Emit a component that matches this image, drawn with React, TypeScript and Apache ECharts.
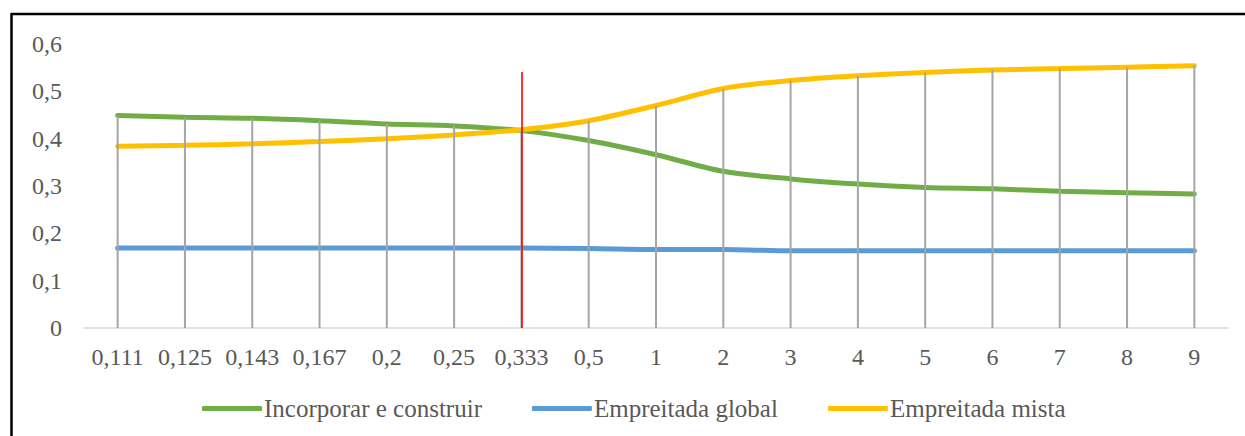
import React, { useEffect, useRef } from "react";
import * as echarts from "echarts";

const categories = ["0,111", "0,125", "0,143", "0,167", "0,2", "0,25", "0,333", "0,5", "1", "2", "3", "4", "5", "6", "7", "8", "9"];
const incorporar = [0.449, 0.445, 0.443, 0.438, 0.431, 0.427, 0.417, 0.396, 0.366, 0.331, 0.315, 0.304, 0.297, 0.294, 0.289, 0.286, 0.283];
const global = [0.169, 0.169, 0.169, 0.169, 0.169, 0.169, 0.169, 0.168, 0.166, 0.166, 0.163, 0.163, 0.163, 0.163, 0.163, 0.163, 0.163];
const mista = [0.384, 0.386, 0.389, 0.394, 0.400, 0.408, 0.419, 0.438, 0.470, 0.506, 0.523, 0.533, 0.540, 0.545, 0.548, 0.551, 0.554];
const yTicks = [0, 0.1, 0.2, 0.3, 0.4, 0.5, 0.6];
const markerCategory = "0,333";
const markerTop = 0.541;

const dropLines = categories.map((_, i) => Math.max(incorporar[i], global[i], mista[i]));

export default function App() {
  const ref = useRef<HTMLDivElement>(null);
  useEffect(() => {
    const chart = echarts.init(ref.current!, null, { renderer: "svg" });
    const font = "'Liberation Serif', 'Times New Roman', serif";
    const red = { color: "#FF0000", width: 1.6, type: "solid", opacity: 1 };
    chart.setOption({
      animation: false,
      backgroundColor: "#ffffff",
      textStyle: { fontFamily: font },
      grid: { left: 84, right: 17, top: 44, bottom: 108, containLabel: false },
      legend: {
        bottom: 10,
        left: 197,
        itemWidth: 60,
        itemHeight: 5,
        itemGap: 50,
        icon: "roundRect",
        textStyle: { fontFamily: font, fontSize: 25, color: "#595959", padding: [0, 0, 0, -3] },
        data: ["Incorporar e construir", "Empreitada global", "Empreitada mista"],
      },
      xAxis: {
        type: "category",
        data: categories,
        boundaryGap: true,
        axisLine: { lineStyle: { color: "#d9d9d9", width: 1.5 } },
        axisTick: { show: false },
        axisLabel: { fontFamily: font, fontSize: 24, color: "#595959", margin: 17, interval: 0 },
        splitLine: { show: false },
      },
      yAxis: {
        type: "value",
        min: yTicks[0],
        max: yTicks[yTicks.length - 1],
        interval: 0.1,
        axisLine: { show: false },
        axisTick: { show: false },
        splitLine: { show: false },
        axisLabel: {
          fontFamily: font,
          fontSize: 24,
          color: "#595959",
          margin: 22,
          formatter: (v: number) => (Math.round(v * 10) / 10).toString().replace(".", ","),
        },
      },
      series: [
        {
          name: "Incorporar e construir",
          type: "line",
          data: incorporar,
          smooth: 0.3,
          symbol: "none",
          lineStyle: { color: "#70AD47", width: 5, cap: "round" },
          itemStyle: { color: "#70AD47" },
          z: 2,
        },
        {
          name: "Empreitada global",
          type: "line",
          data: global,
          smooth: 0.3,
          symbol: "none",
          lineStyle: { color: "#5B9BD5", width: 5, cap: "round" },
          itemStyle: { color: "#5B9BD5" },
          z: 2,
        },
        {
          name: "Empreitada mista",
          type: "line",
          data: mista,
          smooth: 0.3,
          symbol: "none",
          lineStyle: { color: "#FFC000", width: 5, cap: "round" },
          itemStyle: { color: "#FFC000" },
          z: 2,
        },
        {
          name: "drop",
          type: "bar",
          data: dropLines,
          barWidth: 2,
          itemStyle: { color: "#A5A5A5" },
          z: 3,
          legendHoverLink: false,
          markLine: {
            silent: true,
            symbol: "none",
            z: 10,
            label: { show: false },
            lineStyle: red,
            emphasis: { disabled: true },
            data: [[
              { coord: [markerCategory, 0], lineStyle: red },
              { coord: [markerCategory, markerTop], lineStyle: red },
            ]],
          },
        },
      ],
      graphic: [
        { type: "line", shape: { x1: 11, y1: 14, x2: 1245, y2: 14 }, style: { stroke: "#000", lineWidth: 2.5 } },
        { type: "line", shape: { x1: 11.5, y1: 13, x2: 11.5, y2: 436 }, style: { stroke: "#000", lineWidth: 2.5 } },
      ],
    });
    return () => chart.dispose();
  }, []);
  return <div ref={ref} style={{ position: "fixed", left: 0, top: 0, width: 1245, height: 436 }} />;
}
